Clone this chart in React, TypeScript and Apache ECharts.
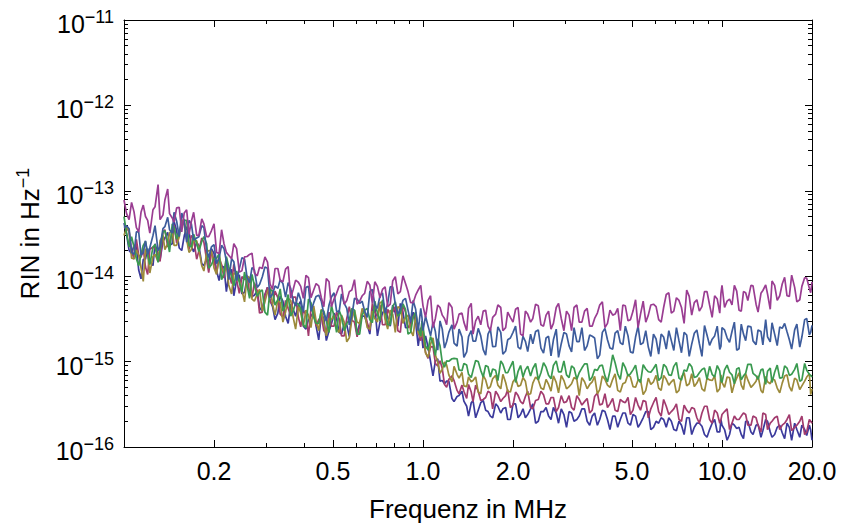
import React, { useEffect, useRef } from "react";
import * as echarts from "echarts";

// Frequency samples in MHz (two interleaved sample sets read along the x axis)
const FREQ_MHZ = [
  0.100, 0.104, 0.108, 0.112, 0.116, 0.120, 0.125, 0.130, 0.135, 0.140,
  0.145, 0.150, 0.156, 0.162, 0.168, 0.175, 0.182, 0.189, 0.196, 0.204,
  0.212, 0.220, 0.229, 0.238, 0.248, 0.258, 0.268, 0.279, 0.290, 0.302,
  0.314, 0.327, 0.340, 0.354, 0.368, 0.383, 0.398, 0.414, 0.431, 0.448,
  0.466, 0.485, 0.504, 0.524, 0.545, 0.567, 0.590, 0.614, 0.638, 0.664,
  0.690, 0.718, 0.747, 0.777, 0.808, 0.840, 0.874, 0.909, 0.945, 0.983,
  1.00, 1.04, 1.08, 1.12, 1.16, 1.20, 1.25, 1.30, 1.35, 1.40,
  1.45, 1.50, 1.56, 1.62, 1.68, 1.75, 1.82, 1.89, 1.96, 2.04,
  2.12, 2.20, 2.29, 2.38, 2.48, 2.58, 2.68, 2.79, 2.90, 3.02,
  3.14, 3.27, 3.40, 3.54, 3.68, 3.83, 3.98, 4.14, 4.31, 4.48,
  4.66, 4.85, 5.04, 5.24, 5.45, 5.67, 5.90, 6.14, 6.38, 6.64,
  6.90, 7.18, 7.47, 7.77, 8.08, 8.40, 8.74, 9.09, 9.45, 9.83,
  10.0, 10.4, 10.8, 11.2, 11.6, 12.0, 12.5, 13.0, 13.5, 14.0,
  14.5, 15.0, 15.6, 16.2, 16.8, 17.5, 18.2, 18.9, 19.6, 20.0,
];

const FREQ_MID = [
  0.102, 0.106, 0.110, 0.114, 0.118, 0.122, 0.127, 0.132, 0.137, 0.142,
  0.147, 0.153, 0.159, 0.165, 0.171, 0.178, 0.185, 0.192, 0.200, 0.208,
  0.216, 0.224, 0.233, 0.243, 0.253, 0.263, 0.273, 0.284, 0.296, 0.308,
  0.320, 0.333, 0.347, 0.361, 0.375, 0.390, 0.406, 0.422, 0.439, 0.457,
  0.475, 0.494, 0.514, 0.534, 0.556, 0.578, 0.602, 0.626, 0.651, 0.677,
  0.704, 0.732, 0.762, 0.792, 0.824, 0.857, 0.891, 0.927, 0.964, 0.992,
  1.02, 1.06, 1.10, 1.14, 1.18, 1.22, 1.27, 1.32, 1.37, 1.42,
  1.47, 1.53, 1.59, 1.65, 1.71, 1.78, 1.85, 1.92, 2.00, 2.08,
  2.16, 2.24, 2.33, 2.43, 2.53, 2.63, 2.73, 2.84, 2.96, 3.08,
  3.20, 3.33, 3.47, 3.61, 3.75, 3.90, 4.06, 4.22, 4.39, 4.57,
  4.75, 4.94, 5.14, 5.34, 5.56, 5.78, 6.02, 6.26, 6.51, 6.77,
  7.04, 7.32, 7.62, 7.92, 8.24, 8.57, 8.91, 9.27, 9.64, 9.92,
  10.2, 10.6, 11.0, 11.4, 11.8, 12.2, 12.7, 13.2, 13.7, 14.2,
  14.7, 15.3, 15.9, 16.5, 17.1, 17.8, 18.5, 19.2, 19.8,
];

// RIN values in units of 1e-15 Hz^-1
const RIN_UNIT = 1e-15;

const RIN_MAGENTA = [
  78, 46, 57, 33, 68, 45, 60, 118, 52, 105,
  48, 63, 33, 60, 44, 30, 47, 29, 34, 19,
  35, 19, 16, 21, 11.6, 17, 18.6, 10.1, 12.3, 14.6,
  7.0, 12.3, 8.6, 13.0, 7.0, 8.5, 5.5, 9.6, 6.9, 7.7,
  4.4, 8.6, 5.4, 7.6, 4.7, 6.6, 9.1, 5.1, 6.3, 7.9,
  8.6, 5.6, 7.5, 4.7, 9.9, 6.6, 8.2, 4.9, 6.0, 7.8,
  4.5, 5.2, 2.5, 4.6, 3.5, 2.7, 4.3, 2.9, 3.7, 2.3,
  4.8, 3.0, 2.7, 4.0, 2.3, 3.6, 4.3, 2.5, 3.3, 4.1,
  2.1, 3.9, 2.9, 4.7, 2.7, 3.5, 2.4, 4.3, 3.2, 3.9,
  2.3, 4.6, 2.9, 4.2, 2.6, 3.7, 5.0, 2.8, 3.5, 4.2,
  4.6, 3.0, 3.9, 2.5, 5.1, 3.5, 4.7, 3.1, 4.3, 6.4,
  3.9, 5.2, 2.8, 5.8, 4.9, 3.9, 6.6, 4.6, 5.9, 3.7,
  7.8, 5.1, 4.6, 6.7, 3.9, 6.4, 7.8, 4.7, 6.3, 7.9,
  4.1, 7.8, 5.9, 9.7, 5.8, 7.4, 5.3, 9.6, 7.2, 8.6,
];
const RIN_MAGENTA_MID = [
  54, 73, 37, 56, 50, 32, 65, 46, 78, 54,
  43, 64, 55, 31, 56, 30, 41, 29, 41, 18.4,
  24, 17.6, 24, 11.2, 16.8, 18, 10.9, 12.7, 16.8, 8.1,
  12.3, 8.9, 12.1, 5.5, 9.0, 7.6, 10.2, 5.6, 8.2, 5.6,
  9.4, 4.4, 6.3, 7.8, 5.2, 6.9, 4.7, 5.9, 8.7, 4.8,
  7.6, 7.0, 4.4, 8.8, 6.2, 10.1, 6.6, 4.9, 6.9, 5.7,
  3.3, 5.9, 3.2, 4.3, 3.2, 4.9, 2.4, 3.6, 2.9, 4.2,
  2.1, 3.4, 3.9, 2.6, 3.3, 4.6, 2.3, 3.8, 2.9, 4.3,
  2.0, 3.6, 3.2, 4.5, 2.6, 3.9, 2.8, 4.8, 2.3, 3.5,
  4.3, 2.9, 3.9, 2.6, 3.2, 4.6, 2.5, 4.0, 3.6, 2.3,
  4.5, 3.1, 5.3, 3.6, 2.9, 4.6, 4.4, 2.9, 6.1, 3.7,
  5.6, 4.3, 6.9, 3.5, 5.3, 4.4, 6.6, 3.3, 5.4, 6.3,
  4.3, 5.4, 7.8, 4.0, 6.6, 5.2, 7.7, 3.8, 6.8, 6.2,
  8.8, 5.2, 8.1, 5.9, 10.3, 5.0, 7.6, 9.5, 6.4,
];

const RIN_BLUE = [
  37, 36, 18, 33, 19, 18, 30, 20, 36, 49,
  32, 44, 55, 25, 41, 28, 39, 20, 22, 14,
  23, 15, 16, 8.9, 16.5, 9.7, 12.6, 7.4, 9.8, 12.4,
  6.2, 7.2, 8.2, 8.4, 5.1, 6.4, 3.8, 7.6, 4.9, 6.0,
  3.6, 4.6, 6.4, 3.8, 4.8, 2.7, 5.5, 4.8, 3.9, 6.6,
  4.6, 5.9, 3.7, 7.5, 4.7, 4.1, 5.5, 2.9, 4.1, 4.2,
  2.3, 2.6, 2.9, 1.36, 2.4, 1.72, 2.7, 1.52, 1.94, 1.3,
  2.3, 1.74, 2.0, 1.19, 2.4, 1.51, 2.2, 1.33, 1.89, 2.6,
  1.4, 1.73, 2.1, 2.25, 1.44, 1.89, 1.17, 2.4, 1.62, 2.1,
  1.3, 1.71, 2.5, 1.53, 1.98, 1.08, 2.2, 1.8, 1.4, 2.3,
  1.58, 2.0, 1.26, 2.6, 1.66, 1.48, 2.1, 1.22, 1.94, 2.3,
  1.35, 1.76, 2.2, 1.15, 2.15, 1.63, 2.65, 1.55, 2.0, 1.39,
  2.5, 1.9, 2.25, 1.36, 2.75, 1.76, 2.55, 1.58, 2.25, 3.1,
  1.7, 2.1, 2.55, 2.8, 1.8, 2.35, 1.48, 3.1, 2.05, 2.65,
];
const RIN_BLUE_MID = [
  39, 19, 33, 17.6, 26, 21.6, 39, 22, 38, 35,
  56, 29, 44, 45, 26.5, 29, 37, 16.5, 23.5, 16.3,
  21, 9.1, 14.8, 12.2, 15.8, 8.4, 11.8, 8.0, 12.8, 5.6,
  7.7, 9.1, 5.7, 7.2, 4.5, 5.3, 7.4, 3.9, 5.8, 5.1,
  3.0, 5.7, 3.9, 6.2, 4.2, 3.4, 5.4, 5.1, 3.3, 7.0,
  4.2, 6.4, 4.8, 7.5, 3.6, 5.2, 4.0, 5.2, 2.3, 3.3,
  3.4, 2.0, 2.25, 3.0, 1.44, 2.2, 1.65, 2.4, 1.12, 1.96,
  1.74, 2.45, 1.38, 2.1, 1.5, 2.55, 1.22, 1.8, 2.2, 1.48,
  1.98, 1.31, 1.62, 2.35, 1.26, 1.98, 1.8, 1.12, 2.2, 1.53,
  2.5, 1.71, 1.35, 2.05, 1.89, 1.19, 2.45, 1.44, 2.15, 1.66,
  2.6, 1.3, 1.94, 1.58, 2.3, 1.15, 1.84, 2.1, 1.4, 1.76,
  2.5, 1.27, 2.05, 1.6, 2.35, 1.15, 2.05, 1.83, 2.6, 1.51,
  2.35, 1.68, 2.9, 1.41, 2.1, 2.6, 1.75, 2.35, 1.57, 1.95,
  2.85, 1.54, 2.45, 2.23, 1.4, 2.75, 1.94, 3.2, 2.2,
];

const RIN_GREEN = [
  50, 22, 22, 13.3, 23, 18, 22, 14.5, 33, 25,
  41, 27, 38, 45, 22, 24, 25.5, 24, 13.6, 16.3,
  9.1, 16.9, 9.9, 11.5, 6.5, 7.8, 10.5, 5.8, 6.9, 3.5,
  6.7, 5.3, 3.9, 6.1, 3.9, 4.7, 2.7, 5.4, 3.3, 2.8,
  3.9, 2.2, 3.35, 4.0, 2.3, 3.1, 4.0, 2.1, 4.0, 3.1,
  5.1, 3.0, 4.0, 2.7, 5.0, 3.7, 4.1, 2.2, 3.8, 2.0,
  2.6, 1.37, 1.63, 1.85, 0.98, 1.02, 1.08, 1.08, 0.78, 0.91,
  0.65, 1.03, 0.79, 0.9, 0.66, 0.79, 1.02, 0.74, 0.87, 0.57,
  0.9, 0.8, 0.68, 0.95, 0.74, 0.86, 0.63, 1.02, 0.76, 0.7,
  0.89, 0.62, 0.84, 0.94, 0.66, 0.79, 0.91, 0.58, 1.2, 0.72,
  0.97, 0.68, 0.8, 0.62, 0.92, 0.76, 0.83, 0.6, 0.93, 0.7,
  0.88, 0.64, 0.8, 0.95, 0.65, 0.74, 0.84, 0.88, 0.66, 0.78,
  0.57, 0.91, 0.7, 0.82, 0.61, 0.73, 0.93, 0.68, 0.8, 0.54,
  0.84, 0.75, 0.64, 0.89, 0.69, 0.81, 0.59, 0.95, 0.71, 0.66,
];
const RIN_GREEN_MID = [
  32, 29, 16, 18, 25.5, 13.7, 23.5, 20, 34, 19.2,
  37.6, 34, 45, 23, 31, 19.5, 29, 12.4, 16.2, 18.2,
  10.8, 12.9, 7.7, 8.5, 11.2, 5.5, 7.8, 6.5, 3.8, 7.0,
  4.6, 7.1, 4.6, 3.4, 4.9, 4.2, 2.5, 4.9, 2.8, 4.0,
  3.0, 4.6, 2.2, 3.35, 2.8, 4.2, 2.1, 3.5, 4.2, 2.85,
  3.7, 5.3, 2.7, 4.4, 3.4, 4.75, 2.1, 3.3, 2.5, 3.0,
  1.52, 1.97, 1.18, 1.53, 0.86, 1.01, 1.09, 0.8, 0.95, 0.71,
  0.79, 1.0, 0.66, 0.87, 0.82, 0.6, 0.93, 0.74, 1.01, 0.77,
  0.66, 0.88, 0.83, 0.61, 0.97, 0.69, 0.9, 0.76, 1.02, 0.65,
  0.84, 0.74, 0.94, 0.6, 0.81, 0.89, 0.68, 0.78, 0.97, 0.62,
  0.85, 0.72, 0.91, 0.57, 0.82, 0.75, 0.93, 0.65, 0.86, 0.69,
  0.98, 0.61, 0.77, 0.87, 0.67, 0.81, 0.62, 0.71, 0.9, 0.6,
  0.8, 0.75, 0.55, 0.85, 0.68, 0.93, 0.73, 0.62, 0.82, 0.77,
  0.57, 0.91, 0.65, 0.84, 0.71, 0.95, 0.61, 0.79, 0.69,
];

const RIN_OLIVE = [
  30, 34, 16, 17.6, 8.7, 18, 17, 14.8, 30, 24,
  35, 23, 46, 27, 20.5, 26, 13.3, 18.9, 19.8, 10.5,
  12.3, 13.4, 6.2, 10.4, 6.9, 10.1, 5.4, 6.2, 3.9, 6.6,
  4.7, 5.2, 2.9, 5.5, 3.3, 4.4, 2.6, 3.5, 4.5, 2.3,
  2.8, 3.2, 3.5, 2.2, 2.9, 1.9, 4.0, 2.8, 3.7, 2.4,
  3.2, 4.9, 3.1, 4.0, 2.2, 4.2, 3.3, 2.3, 3.4, 1.94,
  2.2, 1.12, 1.9, 0.99, 0.81, 0.91, 0.58, 0.71, 0.75, 0.51,
  0.58, 0.66, 0.42, 0.61, 0.51, 0.69, 0.48, 0.57, 0.44, 0.64,
  0.53, 0.59, 0.42, 0.66, 0.49, 0.62, 0.45, 0.57, 0.69, 0.48,
  0.55, 0.62, 0.65, 0.48, 0.58, 0.42, 0.68, 0.53, 0.62, 0.46,
  0.55, 0.71, 0.51, 0.61, 0.41, 0.64, 0.58, 0.49, 0.69, 0.53,
  0.62, 0.46, 0.74, 0.55, 0.51, 0.65, 0.45, 0.61, 0.68, 0.48,
  0.57, 0.66, 0.43, 0.64, 0.53, 0.72, 0.5, 0.59, 0.46, 0.67,
  0.55, 0.61, 0.43, 0.68, 0.51, 0.64, 0.47, 0.59, 0.72, 0.48,
];
const RIN_OLIVE_MID = [
  37, 16.3, 20.3, 12.6, 21, 10.9, 18, 26, 20.5, 32,
  23, 29, 40, 19, 26, 20.7, 11.5, 20, 12.5, 18.5,
  11.1, 7.9, 10.9, 8.9, 5.0, 9.5, 5.1, 7.0, 5.0, 7.4,
  3.5, 4.9, 3.8, 5.2, 2.4, 3.7, 4.0, 2.5, 3.0, 4.1,
  2.0, 3.1, 2.4, 3.5, 1.7, 3.1, 2.9, 4.2, 2.5, 3.9,
  2.9, 5.0, 2.4, 3.6, 4.4, 2.8, 3.5, 2.0, 2.2, 2.7,
  1.26, 1.6, 1.19, 0.73, 0.99, 0.7, 0.88, 0.64, 0.52, 0.66,
  0.6, 0.44, 0.69, 0.48, 0.63, 0.53, 0.71, 0.45, 0.58, 0.51,
  0.65, 0.41, 0.56, 0.61, 0.47, 0.54, 0.68, 0.43, 0.6, 0.51,
  0.65, 0.4, 0.58, 0.54, 0.67, 0.47, 0.62, 0.5, 0.72, 0.44,
  0.57, 0.66, 0.5, 0.61, 0.46, 0.54, 0.69, 0.46, 0.62, 0.58,
  0.43, 0.66, 0.52, 0.72, 0.56, 0.48, 0.64, 0.6, 0.44, 0.7,
  0.5, 0.65, 0.55, 0.74, 0.47, 0.61, 0.53, 0.68, 0.43, 0.58,
  0.63, 0.49, 0.56, 0.7, 0.45, 0.61, 0.52, 0.66, 0.41,
];

const RIN_PINK = [
  37, 33, 15.8, 17.6, 21, 10.5, 22, 18, 33, 22,
  33, 24.5, 43, 28, 30, 15.8, 28, 15.5, 19.2, 10.7,
  13.7, 16.3, 8.2, 9.1, 9.9, 9.8, 5.6, 6.7, 3.8, 7.4,
  4.7, 5.6, 3.3, 4.2, 5.7, 3.3, 4.0, 2.0, 4.0, 3.1,
  2.3, 3.8, 2.6, 3.2, 2.0, 4.4, 2.9, 2.6, 3.9, 2.3,
  3.8, 4.6, 2.7, 3.5, 4.4, 2.2, 3.8, 2.6, 3.6, 1.76,
  2.0, 1.09, 1.5, 0.89, 0.83, 0.5, 0.68, 0.46, 0.53, 0.37,
  0.44, 0.53, 0.35, 0.38, 0.43, 0.45, 0.34, 0.4, 0.29, 0.44,
  0.34, 0.39, 0.29, 0.35, 0.45, 0.32, 0.38, 0.26, 0.4, 0.34,
  0.29, 0.4, 0.31, 0.37, 0.27, 0.43, 0.32, 0.29, 0.37, 0.26,
  0.34, 0.38, 0.27, 0.31, 0.35, 0.22, 0.33, 0.26, 0.36, 0.24,
  0.28, 0.21, 0.31, 0.25, 0.28, 0.19, 0.3, 0.21, 0.27, 0.19,
  0.24, 0.28, 0.19, 0.21, 0.23, 0.24, 0.18, 0.22, 0.15, 0.24,
  0.19, 0.22, 0.16, 0.19, 0.24, 0.17, 0.2, 0.14, 0.21, 0.19,
];
const RIN_PINK_MID = [
  37, 20, 27, 16.6, 12.8, 20.7, 21, 14.9, 35, 24,
  40, 32, 46, 20.5, 27.5, 19.8, 25, 11, 15.5, 16.2,
  9.5, 10.8, 13.8, 6.3, 9.1, 6.4, 8.4, 3.7, 6.0, 5.0,
  6.7, 3.6, 5.2, 3.5, 5.7, 2.55, 3.5, 4.2, 2.6, 3.4,
  2.15, 2.6, 3.8, 2.0, 3.2, 3.05, 1.95, 4.0, 2.85, 4.8,
  3.4, 2.7, 4.1, 3.8, 2.3, 4.6, 2.5, 3.4, 2.2, 3.0,
  1.28, 1.49, 0.95, 1.02, 0.54, 0.62, 0.6, 0.42, 0.45, 0.54,
  0.34, 0.45, 0.36, 0.45, 0.28, 0.41, 0.37, 0.47, 0.31, 0.4,
  0.32, 0.45, 0.28, 0.36, 0.41, 0.32, 0.38, 0.29, 0.33, 0.4,
  0.27, 0.36, 0.34, 0.25, 0.39, 0.31, 0.42, 0.32, 0.27, 0.36,
  0.33, 0.24, 0.38, 0.27, 0.34, 0.28, 0.38, 0.23, 0.3, 0.26,
  0.32, 0.2, 0.27, 0.29, 0.22, 0.25, 0.3, 0.19, 0.25, 0.21,
  0.26, 0.16, 0.23, 0.21, 0.25, 0.18, 0.23, 0.18, 0.25, 0.16,
  0.2, 0.23, 0.18, 0.21, 0.155, 0.18, 0.23, 0.15, 0.2,
];

const RIN_NAVY = [
  42, 20, 23, 11.8, 15.8, 21, 13.3, 18, 25.5, 32.5,
  24, 34, 20, 38, 22.5, 25, 14, 16, 21, 11.5,
  13.2, 6.6, 12, 9, 6.2, 9.5, 5.8, 6.7, 3.9, 7.4,
  4.4, 3.7, 5.1, 2.8, 4.1, 4.6, 2.6, 3.1, 3.8, 1.8,
  3.2, 2.3, 3.7, 2.2, 2.75, 1.96, 3.65, 2.8, 3.4, 2.1,
  4.4, 2.9, 4.2, 2.6, 3.7, 4.8, 2.5, 2.8, 2.9, 2.5,
  1.44, 1.47, 0.68, 1.08, 0.6, 0.59, 0.37, 0.39, 0.45, 0.3,
  0.33, 0.22, 0.33, 0.27, 0.23, 0.32, 0.25, 0.29, 0.21, 0.32,
  0.24, 0.22, 0.28, 0.19, 0.26, 0.29, 0.21, 0.25, 0.28, 0.17,
  0.25, 0.21, 0.28, 0.2, 0.23, 0.18, 0.27, 0.21, 0.23, 0.17,
  0.25, 0.19, 0.24, 0.17, 0.22, 0.26, 0.17, 0.19, 0.21, 0.22,
  0.16, 0.2, 0.14, 0.22, 0.17, 0.19, 0.14, 0.16, 0.21, 0.15,
  0.18, 0.12, 0.19, 0.165, 0.14, 0.2, 0.15, 0.18, 0.13, 0.21,
  0.15, 0.14, 0.18, 0.125, 0.17, 0.19, 0.13, 0.16, 0.18, 0.12,
];
const RIN_NAVY_MID = [
  31, 18.5, 22, 9.3, 15.9, 15, 24, 15.6, 28, 23,
  44, 21.4, 29.5, 33, 19.3, 22.8, 13.3, 14.4, 18.5, 8.9,
  12.7, 10.5, 5.9, 10.4, 6.5, 9.7, 6.0, 4.3, 6.1, 5.2,
  3.1, 5.9, 3.4, 4.7, 3.4, 5.1, 2.4, 3.4, 2.6, 3.6,
  1.76, 2.75, 3.2, 2.1, 2.7, 3.9, 2.1, 3.4, 2.7, 4.1,
  2.0, 3.7, 3.3, 4.6, 2.6, 3.8, 2.5, 3.8, 1.53, 1.9,
  2.0, 1.0, 1.01, 0.59, 0.55, 0.59, 0.34, 0.4, 0.345, 0.23,
  0.35, 0.27, 0.35, 0.26, 0.22, 0.3, 0.28, 0.21, 0.32, 0.22,
  0.28, 0.24, 0.32, 0.2, 0.26, 0.23, 0.29, 0.19, 0.24, 0.26,
  0.2, 0.23, 0.28, 0.18, 0.25, 0.21, 0.26, 0.16, 0.23, 0.21,
  0.25, 0.18, 0.23, 0.19, 0.26, 0.16, 0.2, 0.22, 0.17, 0.2,
  0.155, 0.18, 0.22, 0.14, 0.19, 0.175, 0.13, 0.19, 0.15, 0.21,
  0.16, 0.14, 0.18, 0.17, 0.125, 0.2, 0.14, 0.185, 0.156, 0.2,
  0.13, 0.17, 0.147, 0.19, 0.12, 0.16, 0.18, 0.136, 0.158,
];

// Axis ranges and ticks
const X_RANGE = [0.1, 20];
const Y_RANGE = [1e-16, 1e-11];
const X_MAJOR_TICKS = [0.2, 0.5, 1, 2, 5, 10, 20];
const X_MINOR_TICKS = [0.3, 0.4, 0.6, 0.7, 0.8, 0.9, 3, 4, 6, 7, 8, 9];
const Y_DECADES = [-16, -15, -14, -13, -12, -11];
const Y_MINOR_MANTISSAS = [2, 3, 4, 5, 6, 7, 8, 9];

const FONT = '"Liberation Sans", Arial, Helvetica, sans-serif';

const SERIES_DEF = [
  { name: "navy", data: RIN_NAVY, mid: RIN_NAVY_MID, color: "#3b3a9c" },
  { name: "pink", data: RIN_PINK, mid: RIN_PINK_MID, color: "#a23b6e" },
  { name: "olive", data: RIN_OLIVE, mid: RIN_OLIVE_MID, color: "#9c8a3a" },
  { name: "green", data: RIN_GREEN, mid: RIN_GREEN_MID, color: "#3a9a50" },
  { name: "blue", data: RIN_BLUE, mid: RIN_BLUE_MID, color: "#3d5c9c" },
  { name: "magenta", data: RIN_MAGENTA, mid: RIN_MAGENTA_MID, color: "#9a3d92" },
];

function buildPoints(main: number[], mid: number[]) {
  const out: number[][] = [];
  for (let i = 0; i < FREQ_MHZ.length; i++) {
    out.push([FREQ_MHZ[i], main[i] * RIN_UNIT]);
    if (i < FREQ_MID.length) out.push([FREQ_MID[i], mid[i] * RIN_UNIT]);
  }
  return out;
}

export default function App() {
  const ref = useRef<HTMLDivElement>(null);

  useEffect(() => {
    if (!ref.current) return;
    const chart = echarts.init(ref.current, null, { renderer: "svg" });

    const lx = [Math.log10(X_RANGE[0]), Math.log10(X_RANGE[1])];
    const ly = [Math.log10(Y_RANGE[0]), Math.log10(Y_RANGE[1])];
    const xMajor = X_MAJOR_TICKS.map((v) => Math.log10(v));
    const xMinor = X_MINOR_TICKS.map((v) => Math.log10(v));
    const yMinor: number[] = [];
    Y_DECADES.slice(0, -1).forEach((d) =>
      Y_MINOR_MANTISSAS.forEach((m) => yMinor.push(d + Math.log10(m)))
    );

    const lineStyle = { color: "#000", width: 1 };

    const decoX = (pos: "bottom" | "top", ticks: number[], len: number, withLine: boolean, withLabels: boolean) => ({
      type: "value",
      min: lx[0],
      max: lx[1],
      position: pos,
      axisLine: { show: withLine, onZero: false, lineStyle },
      axisTick: { show: true, inside: true, length: len, customValues: ticks, lineStyle },
      axisLabel: withLabels
        ? {
            show: true,
            customValues: ticks,
            margin: 11,
            fontSize: 25,
            fontFamily: FONT,
            color: "#000",
            formatter: (v: number) => Math.pow(10, v).toFixed(1),
          }
        : { show: false },
      splitLine: { show: false },
      ...(withLabels
        ? {
            name: "Frequenz in MHz",
            nameLocation: "middle",
            nameGap: 49,
            nameTextStyle: { fontSize: 26, fontFamily: FONT, color: "#000" },
          }
        : {}),
    });

    const decoY = (pos: "left" | "right", ticks: number[], len: number, withLine: boolean, withLabels: boolean) => ({
      type: "value",
      min: ly[0],
      max: ly[1],
      position: pos,
      axisLine: { show: withLine, onZero: false, lineStyle },
      axisTick: { show: true, inside: true, length: len, customValues: ticks, lineStyle },
      axisLabel: withLabels
        ? {
            show: true,
            customValues: ticks,
            margin: 10,
            fontFamily: FONT,
            color: "#000",
            padding: [8, 0, 0, 0],
            formatter: (v: number) => `{b|10}{s|\u2212${Math.round(-v)}}`,
            rich: {
              b: { fontSize: 25, lineHeight: 32, fontFamily: FONT, color: "#000" },
              s: { fontSize: 18, lineHeight: 18, verticalAlign: "top", fontFamily: FONT, color: "#000" },
            },
          }
        : { show: false },
      splitLine: { show: false },
      ...(withLabels
        ? {
            name: "{a|RIN in Hz}{s|\u22121}",
            nameLocation: "middle",
            nameGap: 78,
            nameRotate: 90,
            nameTextStyle: {
              rich: {
                a: { fontSize: 26, lineHeight: 32, fontFamily: FONT, color: "#000" },
                s: { fontSize: 18, lineHeight: 18, verticalAlign: "top", fontFamily: FONT, color: "#000" },
              },
            },
          }
        : {}),
    });

    const option: any = {
      animation: false,
      backgroundColor: "#fff",
      grid: { left: 124, right: 30, top: 20, bottom: 83, containLabel: false, outerBoundsMode: "none" },
      xAxis: [
        { type: "log", logBase: 10, min: X_RANGE[0], max: X_RANGE[1], show: false },
        decoX("bottom", xMajor, 7, true, true),
        decoX("bottom", xMinor, 4, false, false),
        decoX("top", xMajor, 7, true, false),
        decoX("top", xMinor, 4, false, false),
      ],
      yAxis: [
        { type: "log", logBase: 10, min: Y_RANGE[0], max: Y_RANGE[1], show: false },
        decoY("left", Y_DECADES, 7, true, true),
        decoY("left", yMinor, 4, false, false),
        decoY("right", Y_DECADES, 7, true, false),
        decoY("right", yMinor, 4, false, false),
      ],
      series: SERIES_DEF.map((s) => ({
        type: "line",
        name: s.name,
        xAxisIndex: 0,
        yAxisIndex: 0,
        showSymbol: false,
        symbol: "none",
        clip: true,
        lineStyle: { color: s.color, width: 1.7 },
        itemStyle: { color: s.color },
        data: buildPoints(s.data, s.mid),
      })),
    };

    chart.setOption(option);
    return () => chart.dispose();
  }, []);

  return (
    <div
      ref={ref}
      style={{ position: "absolute", left: 0, top: 0, width: 842, height: 530, background: "#fff" }}
    />
  );
}
